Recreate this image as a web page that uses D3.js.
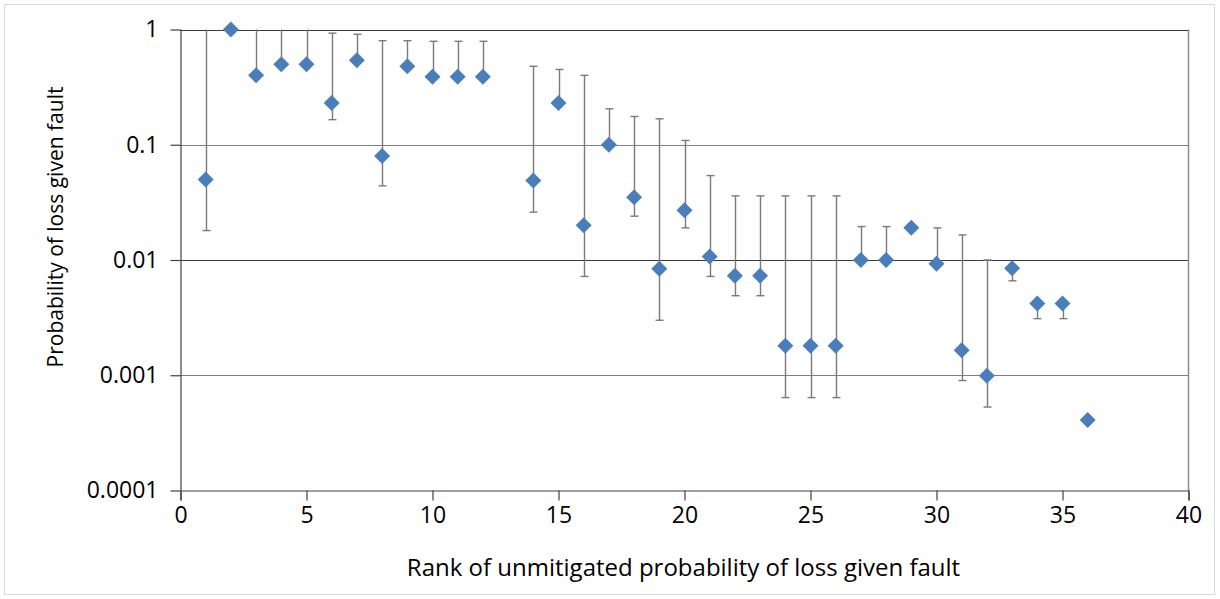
<!DOCTYPE html>
<html>
<head>
<meta charset="utf-8">
<script src="https://cdn.jsdelivr.net/npm/d3@7.9.0/dist/d3.min.js"></script>
<style>
  html, body { margin: 0; padding: 0; background: #fff; }
  svg { display: block; }
</style>
</head>
<body>
<div id="chart"></div>
<script>
// ── Data ────────────────────────────────────────────────────────────────────
var ranks  = [1, 2, 3, 4, 5, 6, 7, 8, 9, 10, 11, 12,
              14, 15, 16, 17, 18, 19, 20, 21, 22, 23, 24, 25,
              26, 27, 28, 29, 30, 31, 32, 33, 34, 35, 36];
var probs  = [0.050, 1.0, 0.40, 0.50, 0.50, 0.23, 0.54, 0.080, 0.48, 0.39, 0.39, 0.39,
              0.049, 0.23, 0.020, 0.10, 0.035, 0.0084, 0.027, 0.0107, 0.0073, 0.0073, 0.0018, 0.0018,
              0.0018, 0.010, 0.010, 0.019, 0.0093, 0.00165, 0.00099, 0.0085, 0.0042, 0.0042, 0.00041];
var upper  = [1.0, null, 1.0, 1.0, 1.0, 0.93, 0.91, 0.80, 0.80, 0.79, 0.79, 0.79,
              0.48, 0.45, 0.40, 0.205, 0.176, 0.168, 0.109, 0.054, 0.036, 0.036, 0.036, 0.036,
              0.036, 0.0195, 0.0195, null, 0.019, 0.0165, 0.010, null, null, null, null];
var lower  = [0.018, null, null, null, null, 0.165, null, 0.044, null, null, null, null,
              0.026, null, 0.0072, null, 0.024, 0.0030, 0.019, 0.0072, 0.0049, 0.0049, 0.00064, 0.00064,
              0.00064, null, null, null, null, 0.0009, 0.00053, 0.0066, 0.0031, 0.0031, null];

var xTicks = [0, 5, 10, 15, 20, 25, 30, 35, 40];
var yTicks = [1, 0.1, 0.01, 0.001, 0.0001];
var yTickLabels = ["1", "0.1", "0.01", "0.001", "0.0001"];

var xTitle = "Rank of unmitigated probability of loss given fault";
var yTitle = "Probability of loss given fault";

// ── Layout ──────────────────────────────────────────────────────────────────
var W = 1220, H = 599;
var L = 180.5, R = 1188.5, T = 29.5, B = 490.5;
var FONT = "'Open Sans', 'Noto Sans', sans-serif";

var svg = d3.select("#chart").append("svg")
  .attr("width", W).attr("height", H);

// outer chart border
svg.append("rect")
  .attr("x", 4.5).attr("y", 4.5)
  .attr("width", 1210).attr("height", 590)
  .attr("fill", "#fff")
  .attr("stroke", "#d9d9d9");

var x = d3.scaleLinear().domain([0, 40]).range([L, R]);
var y = d3.scaleLog().domain([0.0001, 1]).range([B, T]);

// gridlines
svg.append("g").selectAll("line")
  .data(yTicks.filter(function (d) { return d > 0.0001; }))
  .join("line")
    .attr("x1", L).attr("x2", R)
    .attr("y1", function (d) { return Math.round(y(d)) + 0.5; })
    .attr("y2", function (d) { return Math.round(y(d)) + 0.5; })
    .attr("stroke", function (d, i) { return i % 2 ? "#7f7f7f" : "#3a3a3a"; })
    .attr("stroke-width", 1.2);

// right plot border
svg.append("line")
  .attr("x1", R).attr("x2", R).attr("y1", T).attr("y2", B)
  .attr("stroke", "#8c8c8c").attr("stroke-width", 1.5);

// axes
var yAxis = d3.axisLeft(y)
  .tickValues(yTicks)
  .tickFormat(function (d, i) { return yTickLabels[i]; })
  .tickSize(10).tickPadding(12);
var gy = svg.append("g").attr("transform", "translate(" + L + ",0)").call(yAxis);

var xAxis = d3.axisBottom(x).tickValues(xTicks).tickSize(10).tickPadding(6);
var gx = svg.append("g").attr("transform", "translate(0," + B + ")").call(xAxis);

[gx, gy].forEach(function (g) {
  g.select(".domain").attr("stroke", "#404040").attr("stroke-width", 1.2);
  g.selectAll(".tick line").attr("stroke", "#404040").attr("stroke-width", 1.2);
  g.selectAll(".tick text")
    .attr("fill", "#000")
    .attr("font-family", FONT)
    .attr("font-size", "23px");
});
gy.select(".domain").attr("d", "M0.5," + T + "V" + B);

// axis titles
svg.append("text")
  .attr("x", (L + R) / 2 - 1).attr("y", 576)
  .attr("text-anchor", "middle")
  .attr("font-family", FONT).attr("font-size", "24px")
  .attr("fill", "#000")
  .text(xTitle);

svg.append("text")
  .attr("transform", "translate(63,227) rotate(-90)")
  .attr("text-anchor", "middle")
  .attr("font-family", FONT).attr("font-size", "21px")
  .attr("fill", "#000")
  .text(yTitle);

// ── Error bars ──────────────────────────────────────────────────────────────
var pts = ranks.map(function (r, i) {
  return { r: r, v: probs[i], hi: upper[i], lo: lower[i] };
});

var errG = svg.append("g")
  .attr("stroke", "#7a7a7a").attr("stroke-width", 1.4).attr("fill", "none");
var CAP = 4;

pts.forEach(function (p) {
  var cx = Math.round(x(p.r)) + 0.5;
  if (p.hi != null) {
    errG.append("line").attr("x1", cx).attr("x2", cx)
      .attr("y1", y(p.v)).attr("y2", y(p.hi));
    if (p.hi < 1) {
      errG.append("line").attr("x1", cx - CAP).attr("x2", cx + CAP)
        .attr("y1", y(p.hi)).attr("y2", y(p.hi));
    }
  }
  if (p.lo != null) {
    errG.append("line").attr("x1", cx).attr("x2", cx)
      .attr("y1", y(p.v)).attr("y2", y(p.lo));
    errG.append("line").attr("x1", cx - CAP).attr("x2", cx + CAP)
      .attr("y1", y(p.lo)).attr("y2", y(p.lo));
  }
});

// ── Diamonds ────────────────────────────────────────────────────────────────
var D = 8;
svg.append("g").selectAll("path")
  .data(pts)
  .join("path")
    .attr("transform", function (p) { return "translate(" + x(p.r) + "," + y(p.v) + ")"; })
    .attr("d", "M0," + (-D) + "L" + D + ",0L0," + D + "L" + (-D) + ",0Z")
    .attr("fill", "#4a7ebb");
</script>
</body>
</html>
